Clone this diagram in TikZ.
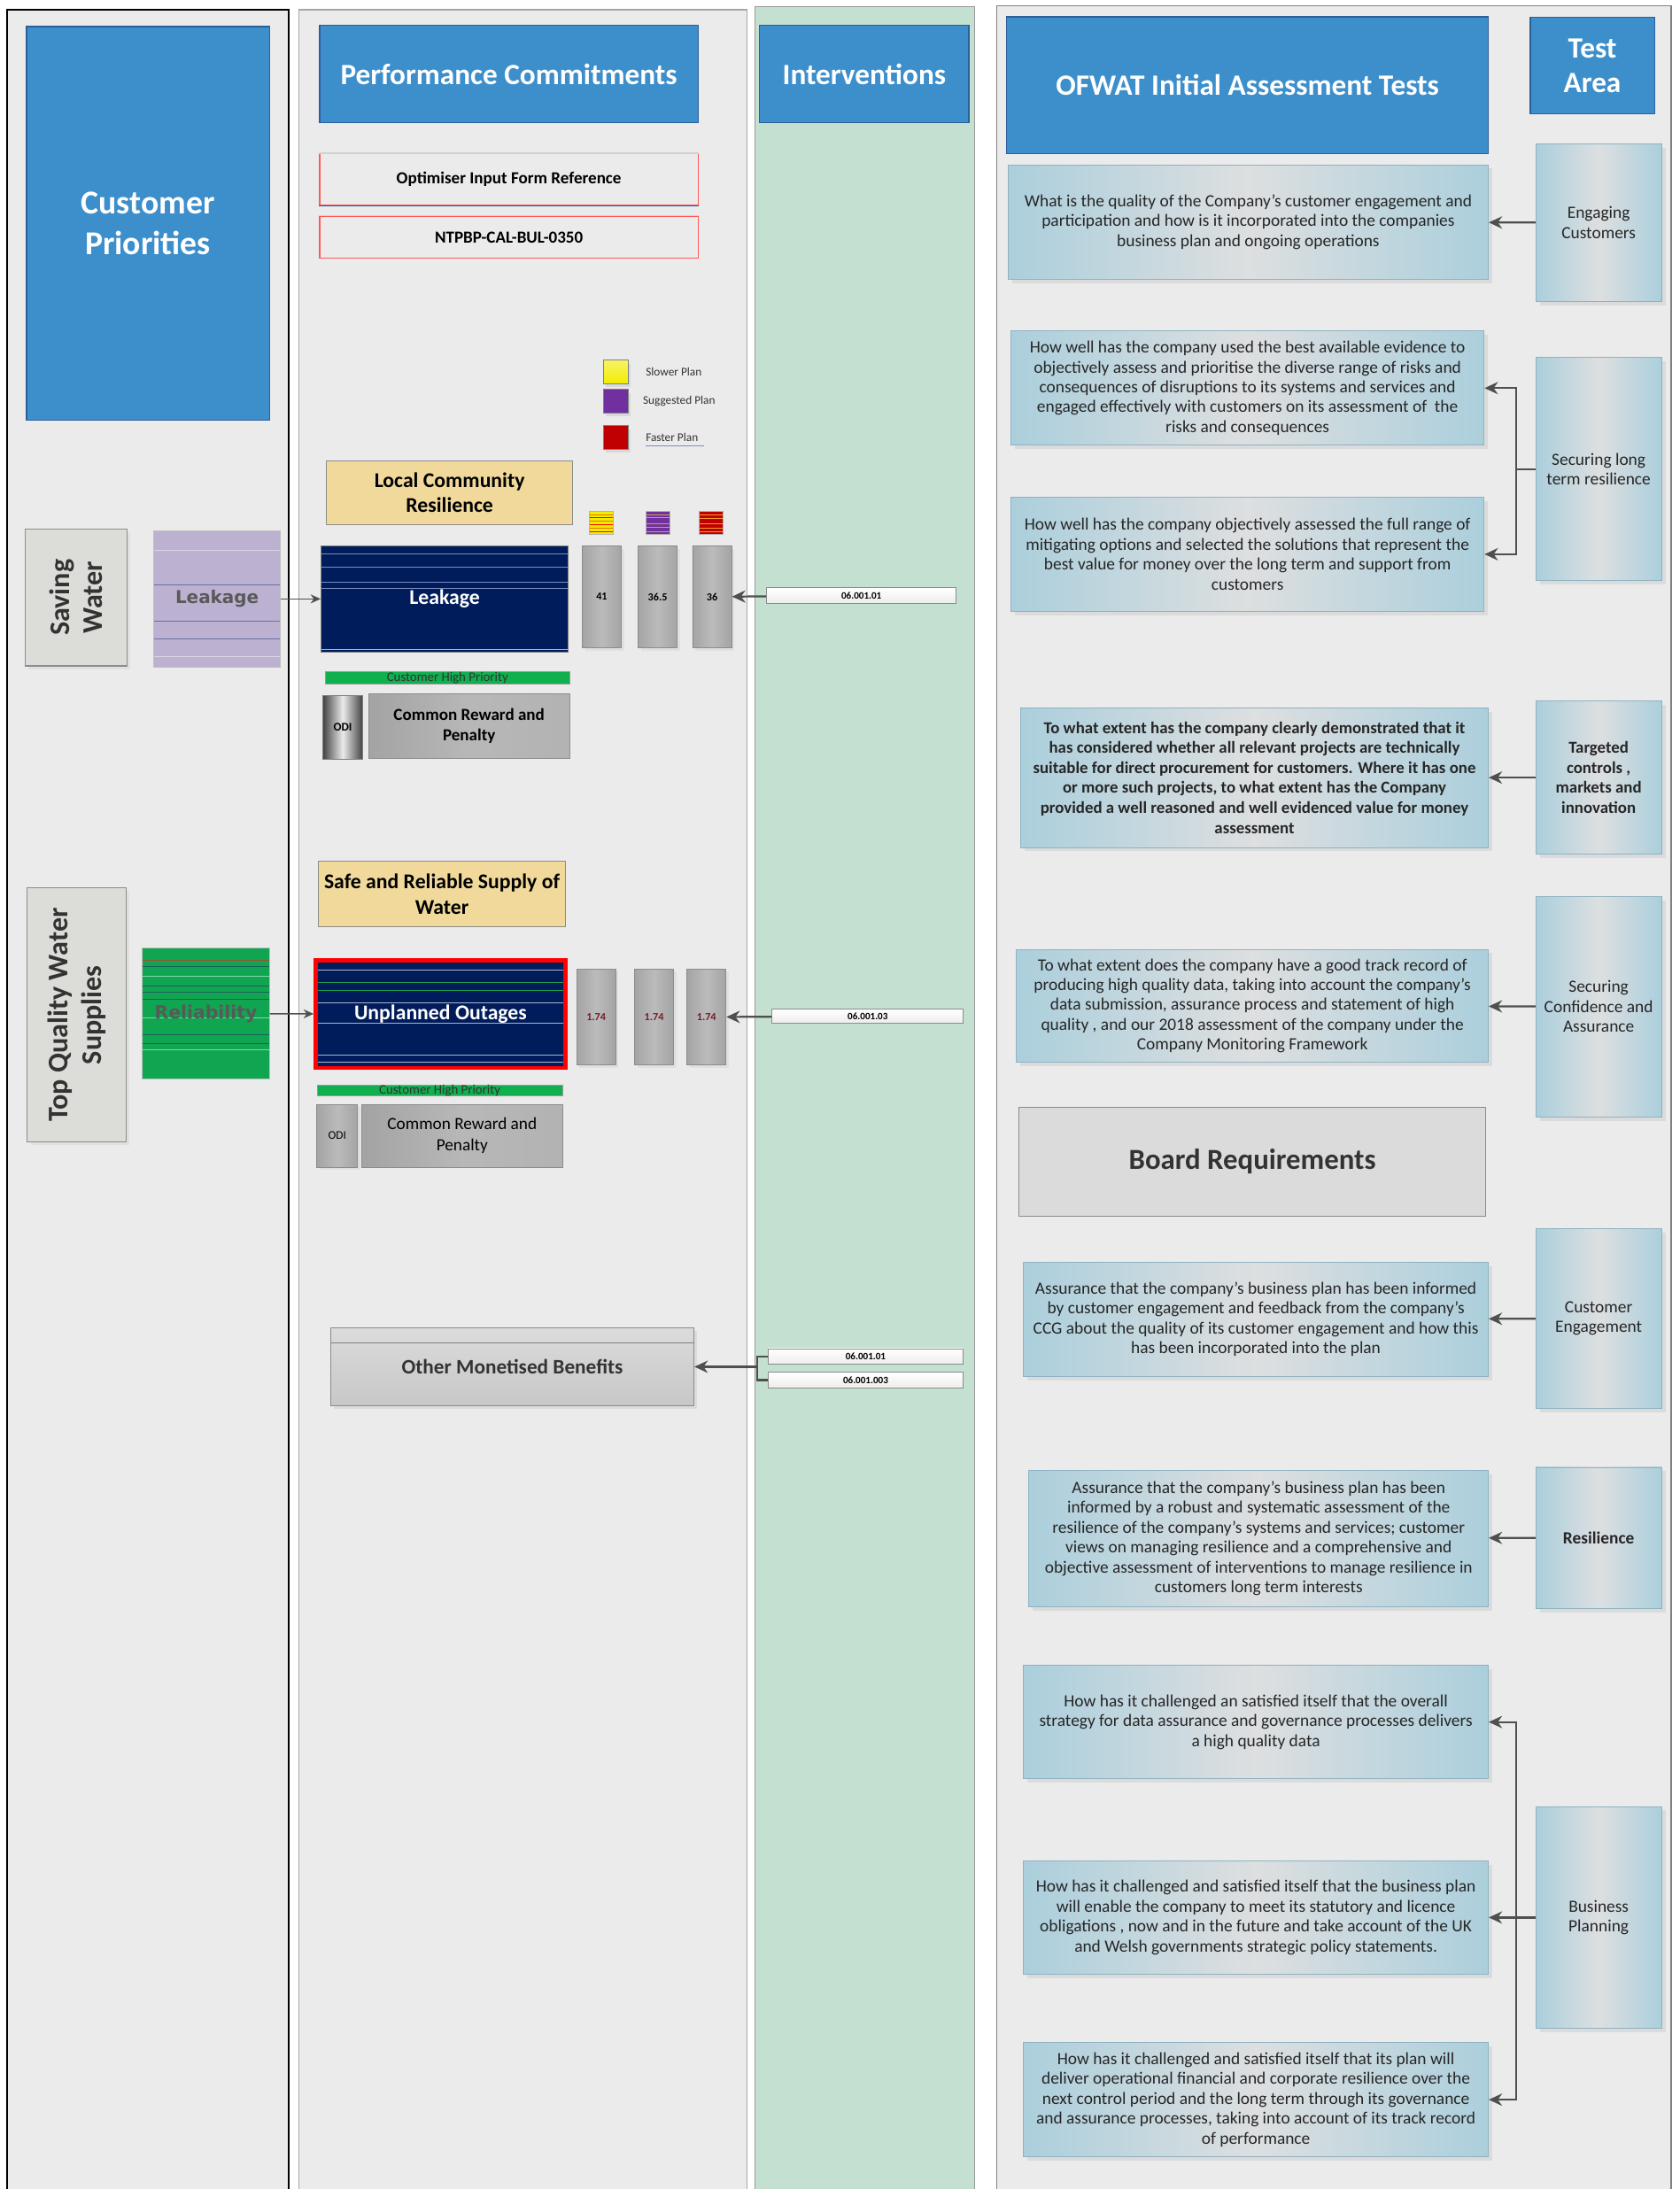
\documentclass[tikz,border=0pt]{standalone}
\usepackage{fontspec}
\setmainfont{Carlito}
\newfontfamily\widesans{DejaVu Sans}
\usetikzlibrary{arrows.meta,positioning,shadows}

\definecolor{panelgray}{HTML}{EBEBEB}
\definecolor{titleblue}{HTML}{3D8FCC}
\definecolor{titleline}{HTML}{2C5F9A}
\definecolor{ivgreen}{HTML}{C4E0D1}
\definecolor{qblue}{HTML}{ABCFDC}
\definecolor{qgray}{HTML}{DDDFE0}
\definecolor{qedge}{HTML}{8FB2C2}
\definecolor{goldfill}{HTML}{F0D99B}
\definecolor{navyfill}{HTML}{001C5A}
\definecolor{bargray}{HTML}{A4A4A4}
\definecolor{barlight}{HTML}{BBBBBB}
\definecolor{lilac}{HTML}{BCB1D1}
\definecolor{relgreen}{HTML}{10A651}
\definecolor{chpgreen}{HTML}{10B04F}
\definecolor{priogray}{HTML}{DCDCD8}
\definecolor{arrowgray}{HTML}{4F4F4F}
\definecolor{textgray}{HTML}{333333}
\definecolor{darkred}{HTML}{7A1A28}
\definecolor{slowyellow}{HTML}{F2EC00}
\definecolor{suggpurple}{HTML}{7030A0}
\definecolor{fastred}{HTML}{C00000}
\definecolor{navyline}{HTML}{7C8CC0}
\definecolor{navylight}{HTML}{A8B4D4}
\definecolor{greenline}{HTML}{20A050}
\definecolor{lilacline}{HTML}{6470A8}
\definecolor{lilaclight}{HTML}{DCD4E6}
\definecolor{relline}{HTML}{1B5E5A}
\definecolor{rellight}{HTML}{80D8A4}
\definecolor{brownline}{HTML}{A05030}
\definecolor{stripeorange}{HTML}{E8700A}
\definecolor{stripegold}{HTML}{C8A840}
\definecolor{stripeamber}{HTML}{F0A020}

\tikzset{
	sz/.style 2 args={minimum width=#1*0.25mm, minimum height=#2*0.25mm, inner sep=0pt},
	rules/.style={path picture={\foreach \yy/\cc in {#1} \draw[\cc, line width=0.4pt] ([yshift=-\yy*0.25mm]path picture bounding box.north west) -- ([yshift=-\yy*0.25mm]path picture bounding box.north east);}},
	title/.style={fill=titleblue, draw=titleline, line width=0.6pt, text=white, align=center, font=\fontsize{15}{19}\selectfont\bfseries},
	question/.style={left color=qblue, right color=qblue, middle color=qgray, draw=qedge, line width=0.4pt, align=center, text=black!85, font=\fontsize{8.75}{10.1}\selectfont, drop shadow={shadow xshift=0.7mm, shadow yshift=-0.7mm, fill=black!14, opacity=1}},
	reference/.style={draw=red!65, line width=0.5pt, font=\fontsize{8.6}{10}\selectfont\bfseries},
	gold/.style={fill=goldfill, draw=black!45, line width=0.5pt, align=center, font=\fontsize{10.7}{12.8}\selectfont\bfseries},
	navybox/.style={fill=navyfill, draw=black!50, line width=0.5pt, text=white, font=\fontsize{10.7}{13}\selectfont\bfseries},
	bar/.style={left color=bargray, right color=bargray, middle color=barlight, draw=black!45, line width=0.4pt, font=\fontsize{5.5}{6}\selectfont\bfseries, drop shadow={shadow xshift=0.5mm, shadow yshift=-0.5mm, fill=black!12, opacity=1}},
	chp/.style={fill=chpgreen, draw=black!40, line width=0.3pt, text=textgray, font=\fontsize{6.7}{7}\selectfont},
	odi/.style={left color=black!75, right color=black!75, middle color=black!8, draw=black!50, line width=0.4pt, font=\fontsize{6}{7}\selectfont\bfseries},
	penalty/.style={left color=black!36, right color=black!30, middle color=black!28, draw=black!45, line width=0.4pt, align=center, font=\fontsize{8.6}{10.8}\selectfont\bfseries},
	prio/.style={fill=priogray, draw=black!45, line width=0.5pt, align=center, text=textgray, font=\fontsize{14.5}{17}\selectfont\bfseries, drop shadow={shadow xshift=0.6mm, shadow yshift=-0.6mm, fill=black!12, opacity=1}},
	ivbox/.style={top color=white, bottom color=black!7, draw=black!45, line width=0.4pt, font=\fontsize{5}{6}\selectfont\bfseries},
	swatch/.style={draw=black!50, line width=0.4pt, sz={18}{17}, drop shadow={shadow xshift=0.4mm, shadow yshift=-0.6mm, fill=black!15, opacity=1}},
	legend/.style={inner sep=0pt, text=textgray, font=\fontsize{6}{7}\selectfont},
	conn/.style={draw=arrowgray, line width=1pt, -{Stealth[length=2.4mm,width=2.2mm]}},
	feed/.style={draw=arrowgray, line width=0.7pt, -{Stealth[length=1.8mm,width=1.6mm]}},
	joint/.style={draw=arrowgray, line width=1pt},
}

\begin{document}
\begin{tikzpicture}[x=0.25mm, y=-0.25mm]
	\useasboundingbox (0,0) rectangle (1203,1568);
	\fill[white] (0,0) rectangle (1203,1568);
	\filldraw[fill=panelgray, draw=black, line width=1pt] (5,7) rectangle (207,1575);
	\filldraw[fill=panelgray, draw=black!35, line width=0.5pt] (214,7) rectangle (535,1575);
	\filldraw[fill=ivgreen, draw=black!40, line width=0.4pt] (541,5) rectangle (698,1575);
	\filldraw[fill=panelgray, draw=black!50, line width=0.6pt] (714,4) rectangle (1197,1575);

	\node[title, sz={174}{282}, font=\fontsize{17}{20.5}\selectfont\bfseries] (cp) at (106,160) {Customer\\Priorities};
	\node[prio, sz={98}{73}, rotate=90] (sw) at (54.5,428) {Saving\\Water};
	\node[fill=lilac, draw=black!25, line width=0.4pt, sz={91}{98}, rules={14/lilaclight,39/lilacline,65/lilacline,77.5/lilacline,90/lilaclight}] (lkp) at (155.5,429) {};
	\node[text=black!65, font=\widesans\fontsize{9}{11}\selectfont\bfseries] (lkpl) at (lkp) {Leakage};
	\node[prio, sz={182}{71}, rotate=90] (tq) at (55,727) {Top Quality Water\\Supplies};
	\node[fill=relgreen, draw=black!25, line width=0.4pt, sz={91}{94}, rules={9/brownline,13/relline,20/rellight,27.5/relline,31.5/relline,37/relline,50/rellight,62/relline,68.5/relline,73/rellight}] (rel) at (147.5,726) {};
	\node[text=black!65, font=\widesans\fontsize{9.2}{11}\selectfont\bfseries] (rell) at (rel) {Reliability};

	\node[title] (pc) at (364.5,53) [sz={271}{70}] {Performance Commitments};
	\node[reference, sz={271}{37}] (oif) at (364.5,128.5) {Optimiser Input Form Reference};
	\node[reference, sz={271}{30}] (ref) at (364.5,170) {NTPBP-CAL-BUL-0350};
	\draw[black!18, line width=0.6pt] (oif.north west) -- (oif.north east);
	\draw[titleline, line width=0.7pt] (oif.south west) -- (oif.south east);
	\draw[black!18, line width=0.6pt] (ref.north west) -- (ref.north east);

	\node[swatch, top color=slowyellow!60!white, bottom color=slowyellow] (slow) at (441,266.5) {};
	\node[swatch, fill=suggpurple] (sugg) at (441,287.5) {};
	\node[swatch, fill=fastred] (fast) at (441,313.5) {};
	\node[legend, right=3mm of slow] (slowl) {Slower Plan};
	\node[legend, right=2.5mm of sugg] (suggl) {Suggested Plan};
	\node[legend, right=3mm of fast] (fastl) {Faster Plan};
	\draw[navyline, line width=0.5pt] ([yshift=-0.6mm]fastl.south west) -- ([yshift=-0.6mm,xshift=1mm]fastl.south east);

	\node[gold, sz={176}{46}] (lcr) at (322,353) {Local Community\\Resilience};
	\node[fill=slowyellow, draw=black!30, line width=0.3pt, sz={17}{17}, rules={2.5/stripeorange,5/red,7.5/stripeorange,10/red,12.5/stripeorange,15/red}] (ys) at (430.5,374.5) {};
	\node[fill=suggpurple, draw=black!30, line width=0.3pt, sz={17}{17}, rules={2.5/stripegold,5/stripegold,9/stripegold,12/stripegold,15/stripegold}] (ps) at (471,374.5) {};
	\node[fill=fastred, draw=black!30, line width=0.3pt, sz={17}{17}, rules={2.5/stripeamber,5.5/stripeamber,9/stripeamber,12.5/stripeamber,15/stripeamber}] (rs) at (509,374.5) {};
	\node[navybox, sz={177}{76}, rules={5.5/navyline,15.5/navyline,26/navyline,30.5/navyline,74/navylight}] (lk) at (318.5,429) {Leakage};
	\node[bar, sz={28}{73}] (b1) at (431,427.5) {41};
	\node[bar, sz={28}{73}] (b2) at (471,427.5) {36.5};
	\node[bar, sz={28}{73}] (b3) at (510,427.5) {36};
	\node[chp, sz={175}{9}] (chp1) at (320.5,485.5) {Customer High Priority};
	\node[odi, sz={29}{46}] (odi1) at (245.5,521) {ODI};
	\node[penalty, sz={144}{46}] (crp1) at (336,520) {Common Reward and\\Penalty};

	\node[gold, sz={177}{47}] (sr) at (316.5,640.5) {Safe and Reliable Supply of\\Water};
	\node[navybox, draw=red, line width=2pt, sz={179}{77}, rules={7/navylight,16/greenline,21.5/greenline,30/navylight,45/navylight,68/navylight,73/navylight}] (uo) at (315.5,726.5) {Unplanned Outages};
	\node[bar, text=darkred, sz={28}{69}] (c1) at (427,728.5) {1.74};
	\node[bar, text=darkred, sz={28}{69}] (c2) at (468.5,728.5) {1.74};
	\node[bar, text=darkred, sz={28}{69}] (c3) at (506,728.5) {1.74};
	\node[chp, sz={176}{8}] (chp2) at (315,781) {Customer High Priority};
	\node[bar, font=\fontsize{6}{7}\selectfont, sz={29}{45}] (odi2) at (241.5,813.5) {ODI};
	\node[penalty, font=\fontsize{8.7}{10.8}\selectfont, sz={144}{45}] (crp2) at (331,813.5) {Common Reward and\\Penalty};

	\node[top color=black!14, bottom color=black!22, draw=black!45, line width=0.5pt, sz={260}{56}, font=\fontsize{10.5}{12}\selectfont\bfseries, text=textgray, drop shadow={shadow xshift=0.6mm, shadow yshift=-0.6mm, fill=black!14, opacity=1}] (omb) at (367,979) {Other Monetised Benefits};
	\draw[black!50, line width=0.5pt] ([yshift=-2.75mm]omb.north west) -- ([yshift=-2.75mm]omb.north east);

	\node[title] (iv) at (619,53) [sz={150}{70}] {Interventions};
	\node[ivbox, sz={136}{11}] (iv1) at (617,426.5) {06.001.01};
	\node[ivbox, sz={137}{10}] (iv2) at (621.5,728) {06.001.03};
	\node[ivbox, sz={140}{11}] (iv3) at (620,971.5) {06.001.01};
	\node[ivbox, sz={140}{11}] (iv4) at (620,988.5) {06.001.003};
	\coordinate (oj) at (542.5,979);

	\node[title, font=\fontsize{15}{17}\selectfont\bfseries, sz={345}{98}] (ofw) at (893.5,61) {OFWAT Initial Assessment Tests};
	\node[title, font=\fontsize{15}{17.8}\selectfont\bfseries, sz={89}{69}] (ta) at (1140.5,47) {Test\\Area};

	\node[question, sz={344}{82}] (q1) at (894,159) {What is the quality of the Company’s customer engagement and\\participation and how is it incorporated into the companies\\business plan and ongoing operations};
	\node[question, sz={339}{82}] (q2) at (893.5,278) {How well has the company used the best available evidence to\\objectively assess and prioritise the diverse range of risks and\\consequences of disruptions to its systems and services and\\engaged effectively with customers on its assessment of\ \ the\\risks and consequences};
	\node[question, sz={339}{82}] (q3) at (893.5,397) {How well has the company objectively assessed the full range of\\mitigating options and selected the solutions that represent the\\best value for money over the long term and support from\\customers};
	\node[question, font=\fontsize{8.5}{10.2}\selectfont\bfseries, sz={335}{100}] (q4) at (898.5,557) {To what extent has the company clearly demonstrated that it\\has considered whether all relevant projects are technically\\suitable for direct procurement for customers. Where it has one\\or more such projects, to what extent has the Company\\provided a well reasoned and well evidenced value for money\\assessment};
	\node[question, sz={338}{81}] (q5) at (897,720.5) {To what extent does the company have a good track record of\\producing high quality data, taking into account the company’s\\data submission, assurance process and statement of high\\quality , and our 2018 assessment of the company under the\\Company Monitoring Framework};
	\node[fill=black!14, draw=black!45, line width=0.5pt, sz={334}{78}, text=textgray, font=\fontsize{14.8}{17}\selectfont\bfseries] (br) at (897,832) {Board Requirements};
	\node[question, sz={333}{82}] (q6) at (899.5,945) {Assurance that the company's business plan has been informed\\by customer engagement and feedback from the company’s\\CCG about the quality of its customer engagement and how this\\has been incorporated into the plan};
	\node[question, sz={329}{98}] (q7) at (901.5,1102) {Assurance that the company’s business plan has been\\informed by a robust and systematic assessment of the\\resilience of the company’s systems and services; customer\\views on managing resilience and a comprehensive and\\objective assessment of interventions to manage resilience in\\customers long term interests};
	\node[question, sz={333}{81}] (q8) at (899.5,1233.5) {How has it challenged an satisfied itself that the overall\\strategy for data assurance and governance processes delivers\\a high quality data};
	\node[question, sz={333}{81}] (q9) at (899.5,1373.5) {How has it challenged and satisfied itself that the business plan\\will enable the company to meet its statutory and licence\\obligations , now and in the future and take account of the UK\\and Welsh governments strategic policy statements.};
	\node[question, sz={333}{82}] (q10) at (899.5,1504) {How has it challenged and satisfied itself that its plan will\\deliver operational financial and corporate resilience over the\\next control period and the long term through its governance\\and assurance processes, taking into account of its track record\\of performance};

	\node[question, sz={90}{113}] (ec) at (1145,159.5) {Engaging\\Customers};
	\node[question, sz={90}{160}] (sltr) at (1145,336) {Securing long\\term resilience};
	\node[question, font=\fontsize{8.5}{10.2}\selectfont\bfseries, sz={90}{110}] (tcmi) at (1145,557) {Targeted\\controls ,\\markets and\\innovation};
	\node[question, sz={90}{158}] (sca) at (1145,721) {Securing\\Confidence and\\Assurance};
	\node[question, sz={90}{129}] (ce) at (1145,944.5) {Customer\\Engagement};
	\node[question, font=\fontsize{8.75}{10.1}\selectfont\bfseries, sz={90}{101}] (res) at (1145,1101.5) {Resilience};
	\node[question, sz={90}{159}] (bp) at (1145,1373.5) {Business\\Planning};

	\path (lkp) edge[feed] (lk);
	\path (rel) edge[feed] (uo);
	\path (iv1) edge[conn] (b3);
	\path (iv2) edge[conn] (c3);
	\draw[joint] (iv3.west) -| (oj) |- (iv4.west);
	\draw[conn] (oj) -- (omb.east);

	\path (ec) edge[conn] (q1);
	\draw[joint] (sltr.west) -- ++(-14,0) coordinate (sj);
	\draw[conn] (sj) |- (q2.east);
	\draw[conn] (sj) |- (q3.east);
	\path (tcmi) edge[conn] (q4);
	\path (sca) edge[conn] (q5);
	\path (ce) edge[conn] (q6);
	\path (res) edge[conn] (q7);
	\draw[joint] (bp.west) -- ++(-14,0) coordinate (bj);
	\draw[conn] (bj) |- (q8.east);
	\draw[conn] (bj) -- (q9.east);
	\draw[conn] (bj) |- (q10.east);
\end{tikzpicture}
\end{document}
